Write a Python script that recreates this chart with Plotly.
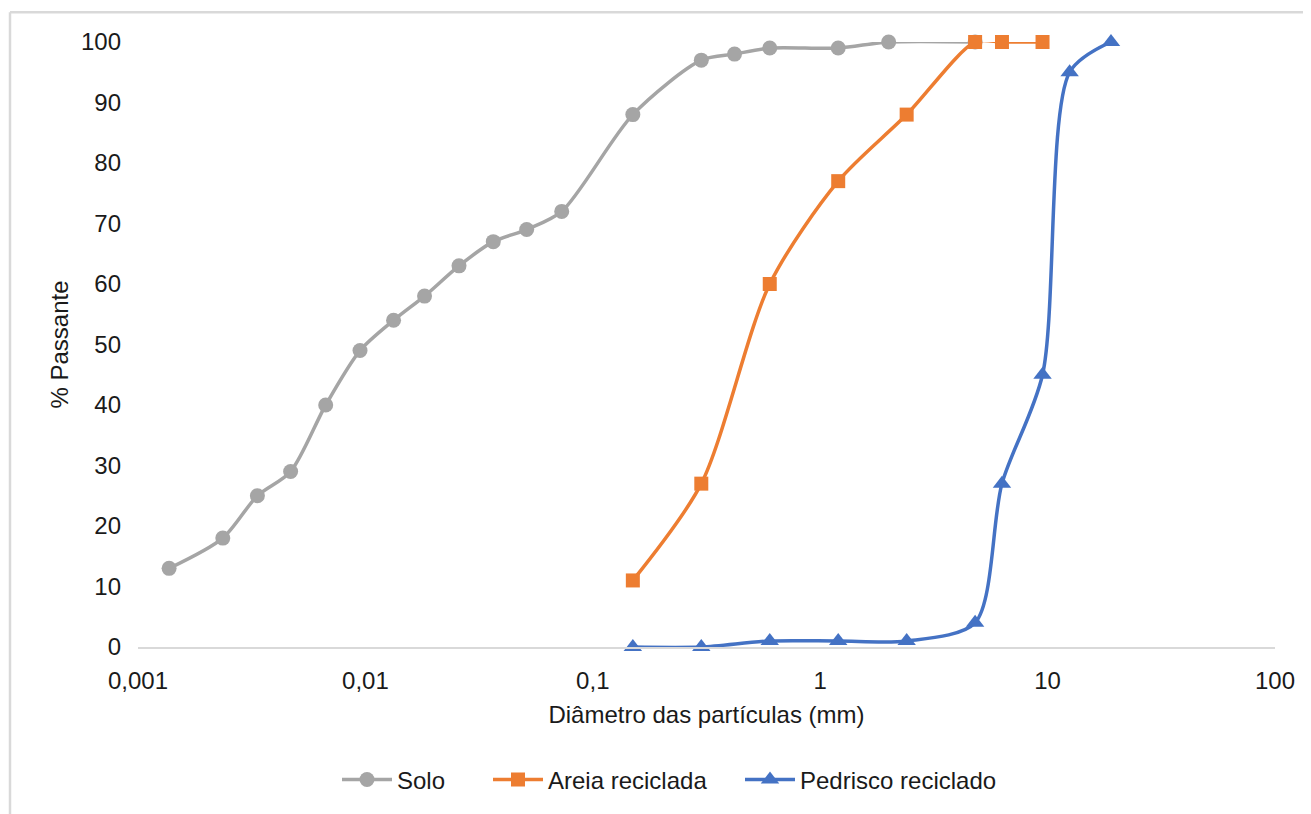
import plotly.graph_objects as go

# ---- data ----
solo_d = [0.00137, 0.00236, 0.00335, 0.00469, 0.00669, 0.00947, 0.0133, 0.0182,
          0.0258, 0.0365, 0.0512, 0.0730, 0.15, 0.3, 0.42, 0.6, 1.2, 2.0, 4.8]
solo_p = [13, 18, 25, 29, 40, 49, 54, 58, 63, 67, 69, 72, 88, 97, 98, 99, 99, 100, 100]

areia_d = [0.15, 0.3, 0.6, 1.2, 2.4, 4.8, 6.3, 9.5]
areia_p = [11, 27, 60, 77, 88, 100, 100, 100]

pedr_d = [0.15, 0.3, 0.6, 1.2, 2.4, 4.8, 6.3, 9.5, 12.5, 19]
pedr_p = [0, 0, 1, 1, 1, 4, 27, 45, 95, 100]

x_tickvals = [0.001, 0.01, 0.1, 1, 10, 100]
x_ticktext = ["0,001", "0,01", "0,1", "1", "10", "100"]
y_tickvals = [0, 10, 20, 30, 40, 50, 60, 70, 80, 90, 100]

FONT = "Liberation Sans, Arial, sans-serif"
TXT = "#1a1a1a"
FS = 24

# page has an 8px body margin: work in screen px, convert to figure px
OFF = 8
W, H = 1303, 806
PL, PR, PT, PB = 138, 1275, 42, 652          # plot area in screen px
L, T = PL - OFF, PT - OFF
R, B = W - (PR - OFF), H - (PB - OFF)
pw, ph = PR - PL, PB - PT

def sx(px):
    return (px - PL) / pw

def sy(py):
    return (PB - py) / ph

fig = go.Figure()
fig.add_trace(go.Scatter(
    x=solo_d, y=solo_p, name="Solo", mode="lines+markers", legend="legend",
    line=dict(color="#A5A5A5", width=3.5, shape="spline", smoothing=0.8),
    marker=dict(symbol="circle", size=15, color="#A5A5A5"),
    cliponaxis=False))
fig.add_trace(go.Scatter(
    x=areia_d, y=areia_p, name="Areia reciclada", mode="lines+markers", legend="legend2",
    line=dict(color="#ED7D31", width=3.5, shape="spline", smoothing=0.8),
    marker=dict(symbol="square", size=14, color="#ED7D31"),
    cliponaxis=False))
fig.add_trace(go.Scatter(
    x=pedr_d, y=pedr_p, name="Pedrisco reciclado", mode="lines+markers", legend="legend3",
    line=dict(color="#4472C4", width=3.5, shape="spline", smoothing=0.8),
    marker=dict(symbol="triangle-up", size=16, color="#4472C4"),
    cliponaxis=False))

def leg(x_screen):
    return dict(orientation="h", x=sx(x_screen), xanchor="left",
                y=sy(786), yanchor="middle", itemwidth=50,
                font=dict(family=FONT, size=FS, color=TXT),
                bgcolor="rgba(0,0,0,0)")

fig.update_layout(
    width=W, height=H,
    margin=dict(l=L, r=R, t=T, b=B),
    paper_bgcolor="white", plot_bgcolor="white",
    font=dict(family=FONT, size=FS, color=TXT),
    showlegend=True,
    legend=leg(337), legend2=leg(488), legend3=leg(740),
    xaxis=dict(type="log", range=[-3, 2], tickvals=x_tickvals, ticktext=x_ticktext,
               showgrid=False, zeroline=False, showline=True,
               linecolor="#D9D9D9", linewidth=1.5, ticks="",
               ticklabelstandoff=11,
               tickfont=dict(family=FONT, size=FS, color=TXT),
               title=dict(text="Diâmetro das partículas (mm)", standoff=14,
                          font=dict(family=FONT, size=FS, color=TXT))),
    yaxis=dict(range=[0, 100], tickvals=y_tickvals, showgrid=False,
               zeroline=False, showline=False, ticks="",
               ticklabelstandoff=16,
               tickfont=dict(family=FONT, size=FS, color=TXT),
               title=dict(text="% Passante", standoff=5,
                          font=dict(family=FONT, size=FS, color=TXT))),
    shapes=[
        dict(type="line", xref="paper", yref="paper",
             x0=sx(10), x1=sx(1330), y0=sy(12), y1=sy(12),
             line=dict(color="#D9D9D9", width=2.5)),
        dict(type="line", xref="paper", yref="paper",
             x0=sx(10), x1=sx(10), y0=sy(12), y1=sy(830),
             line=dict(color="#D9D9D9", width=2.5)),
    ],
)

fig.write_html("out.html")
